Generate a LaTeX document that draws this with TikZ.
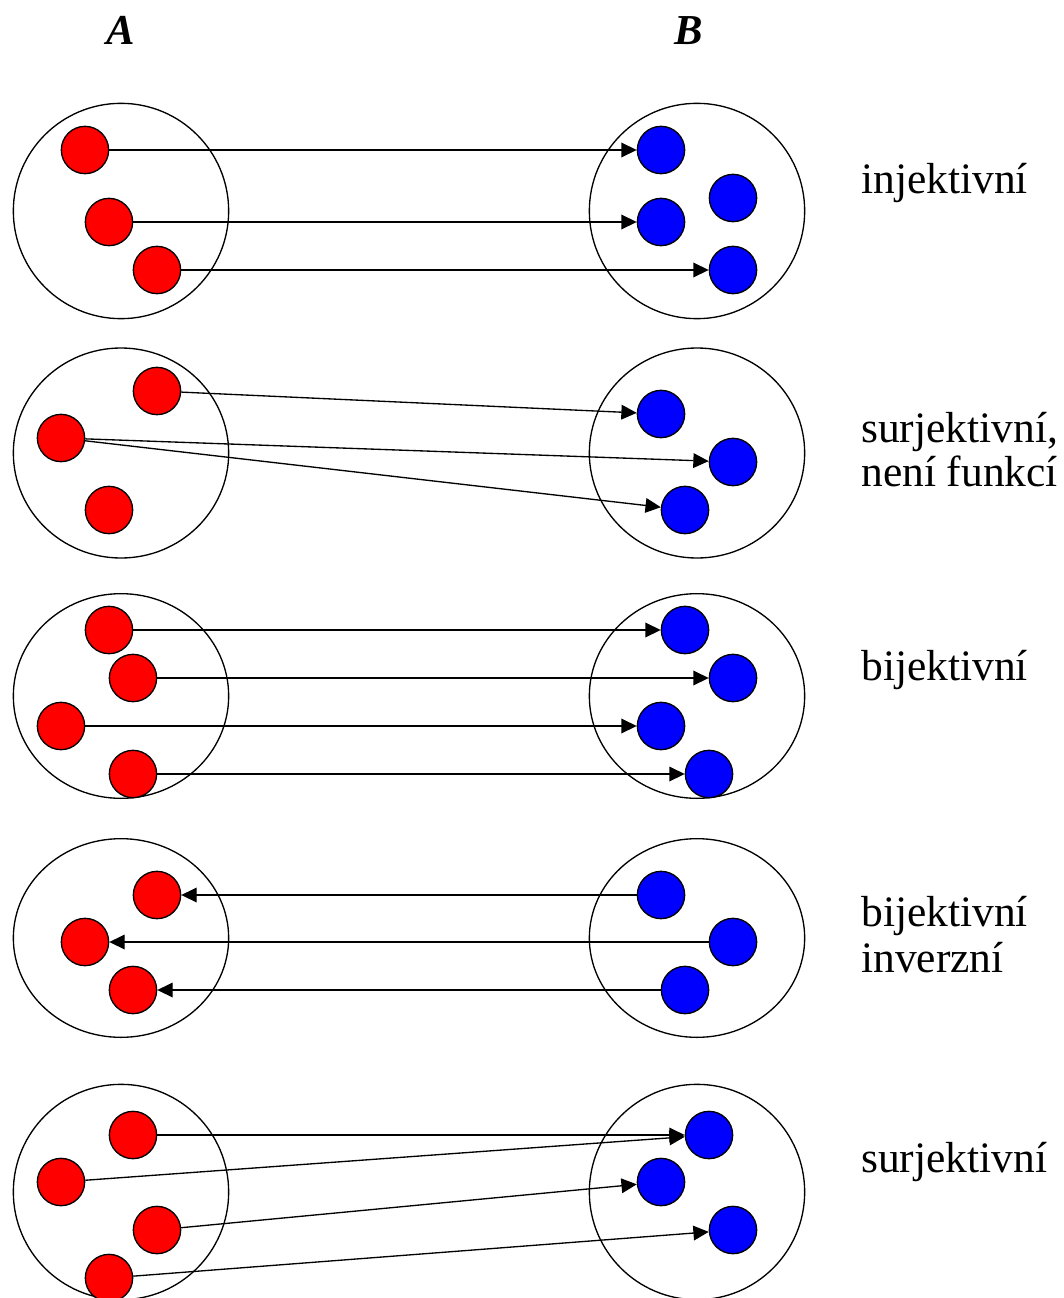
\documentclass[tikz,border=0pt]{standalone}
\usepackage{fontspec}
\setmainfont{Liberation Serif}
\usetikzlibrary{arrows.meta,shapes.geometric}
\begin{document}
\begin{tikzpicture}[x=0.75pt,y=-0.75pt,
  setbox/.style={draw=black,line width=1pt,ellipse,inner sep=0pt,minimum width=161.5pt},
  redel/.style={circle,draw=black,line width=1pt,fill=red,inner sep=0pt,minimum size=35.5pt},
  blueel/.style={circle,draw=black,line width=1pt,fill=blue,inner sep=0pt,minimum size=35.5pt},
  maparrow/.style={draw=black,line width=1pt,-{Triangle[length=11.5pt,width=11pt]}},
  lbl/.style={anchor=base west,inner sep=0pt,font=\fontsize{32.6pt}{39pt}\selectfont},
  hdr/.style={anchor=base west,inner sep=0pt,font=\fontsize{32pt}{38pt}\selectfont\bfseries\itshape}]
\useasboundingbox (0,0) rectangle (1063,1298);
\clip (0,0) rectangle (1063,1298);
% headers
\node[hdr] (hA) at (106,45) {A};
\node[hdr] (hB) at (674,45) {B};
% sets
\node[setbox,minimum height=161.5pt] (A1) at (121,211) {};
\node[setbox,minimum height=161.5pt] (B1) at (697,211) {};
\node[setbox,minimum height=157.5pt] (A2) at (121,453) {};
\node[setbox,minimum height=157.5pt] (B2) at (697,453) {};
\node[setbox,minimum height=153.5pt] (A3) at (121,696) {};
\node[setbox,minimum height=153.5pt] (B3) at (697,696) {};
\node[setbox,minimum height=149pt] (A4) at (121,938) {};
\node[setbox,minimum height=149pt] (B4) at (697,938) {};
\node[setbox,minimum height=161.5pt] (A5) at (121,1192) {};
\node[setbox,minimum height=161.5pt] (B5) at (697,1192) {};
% row 1
\node[redel] (a11) at (85,150) {};
\node[redel] (a12) at (109,222) {};
\node[redel] (a13) at (157,270) {};
\node[blueel] (b11) at (661,150) {};
\node[blueel] (b12) at (733,198) {};
\node[blueel] (b13) at (661,222) {};
\node[blueel] (b14) at (733,270) {};
\draw[maparrow] (a11) -- (b11);
\draw[maparrow] (a12) -- (b13);
\draw[maparrow] (a13) -- (b14);
% row 2
\node[redel] (a21) at (157,391) {};
\node[redel] (a22) at (61,438) {};
\node[redel] (a23) at (109,510) {};
\node[blueel] (b21) at (661,414) {};
\node[blueel] (b22) at (733,462) {};
\node[blueel] (b23) at (685,510) {};
\draw[maparrow] (a21) -- (b21);
\draw[maparrow] (a22) -- (b22);
\draw[maparrow] (a22) -- (b23);
% row 3
\node[redel] (a31) at (109,630) {};
\node[redel] (a32) at (133,678) {};
\node[redel] (a33) at (61,726) {};
\node[redel] (a34) at (133,774) {};
\node[blueel] (b31) at (685,630) {};
\node[blueel] (b32) at (733,678) {};
\node[blueel] (b33) at (661,726) {};
\node[blueel] (b34) at (709,774) {};
\draw[maparrow] (a31) -- (b31);
\draw[maparrow] (a32) -- (b32);
\draw[maparrow] (a33) -- (b33);
\draw[maparrow] (a34) -- (b34);
% row 4
\node[redel] (a41) at (157,895) {};
\node[redel] (a42) at (85,942) {};
\node[redel] (a43) at (133,990) {};
\node[blueel] (b41) at (661,895) {};
\node[blueel] (b42) at (733,942) {};
\node[blueel] (b43) at (685,990) {};
\draw[maparrow] (b41) -- (a41);
\draw[maparrow] (b42) -- (a42);
\draw[maparrow] (b43) -- (a43);
% row 5
\node[redel] (a51) at (133,1135) {};
\node[redel] (a52) at (61,1182) {};
\node[redel] (a53) at (157,1230) {};
\node[redel] (a54) at (109,1278) {};
\node[blueel] (b51) at (709,1135) {};
\node[blueel] (b52) at (661,1182) {};
\node[blueel] (b53) at (733,1230) {};
\draw[maparrow] (a51) -- (b51);
\draw[maparrow] (a52) -- (b51);
\draw[maparrow] (a53) -- (b52);
\draw[maparrow] (a54) -- (b53);
% labels
\node[lbl] (l1) at (861,194) {injektivní};
\node[lbl] (l2a) at (861,442) {surjektivní,};
\node[lbl] (l2b) at (861,486) {není funkcí};
\node[lbl] (l3) at (861,680) {bijektivní};
\node[lbl] (l4a) at (861,926) {bijektivní};
\node[lbl] (l4b) at (861,972) {inverzní};
\node[lbl] (l5) at (861,1172) {surjektivní};
\end{tikzpicture}
\end{document}
